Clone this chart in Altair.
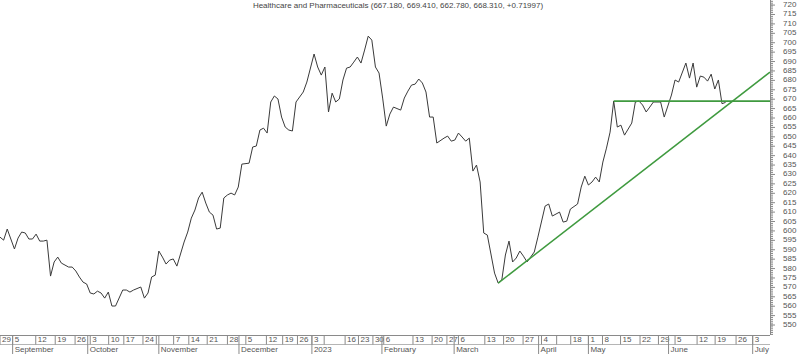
import altair as alt
import pandas as pd

# ---- data -------------------------------------------------------------------
# trading-session position (x) and closing value of the index
session = [0, 1, 2, 4, 5, 6, 7, 8, 9, 10, 11, 12, 13, 14, 15, 16, 17, 19, 20, 21,
           22, 23, 24, 25, 26, 27, 28, 29, 30, 31, 32, 34, 35, 36, 37, 39, 40, 41, 42, 43,
           44, 45, 46, 47, 48, 49, 51, 52, 53, 54, 55, 56, 57, 58, 59, 60, 61, 62, 63, 64,
           65, 66, 67, 69, 70, 71, 72, 73, 74, 75, 76, 77, 78, 79, 80, 81, 82, 84, 85, 87,
           88, 89, 90, 91, 92, 93, 94, 95, 96, 97, 98, 99, 100, 101, 102, 103, 104, 105, 106, 107,
           108, 109, 111, 112, 113, 114, 115, 116, 117, 118, 119, 120, 121, 123, 124, 125, 126, 127, 128, 129,
           130, 131, 132, 133, 134, 135, 137, 138, 139, 140, 141, 142, 143, 144, 145, 146, 148, 149, 151, 152,
           153, 155, 156, 157, 158, 160, 161, 162, 163, 164, 165, 166, 167, 168, 169, 170, 171, 172, 173, 175,
           176, 177, 178, 179, 180, 181, 183, 184, 186, 187, 188, 190, 191, 192, 193, 194, 195, 196, 197, 198,
           199, 200, 201]
close = [596.7, 595.1, 601.0, 590.4, 596.2, 599.4, 598.9, 595.7, 595.7, 598.3, 594.6, 594.6, 595.1, 576.0, 583.5, 586.1, 582.9, 580.8, 580.8, 578.7,
         575.5, 572.8, 571.8, 567.0, 566.5, 568.0, 567.0, 564.3, 567.5, 560.1, 560.1, 568.6, 568.6, 567.5, 568.6, 570.2, 564.3, 567.0, 575.5, 576.5,
         589.3, 586.1, 582.4, 584.5, 585.1, 581.3, 594.1, 599.4, 606.8, 611.1, 617.5, 620.6, 614.8, 610.0, 608.4, 601.0, 601.5, 617.5, 619.1, 620.1,
         619.1, 623.3, 635.5, 636.0, 644.6, 645.1, 653.6, 654.6, 652.0, 668.5, 671.7, 670.1, 660.5, 655.2, 653.6, 653.1, 668.5, 673.8, 679.1, 694.0,
         687.1, 682.8, 687.1, 663.2, 673.2, 668.5, 670.1, 680.2, 686.5, 687.1, 689.7, 692.4, 689.2, 696.1, 703.5, 701.4, 687.1, 683.9, 670.6, 655.7,
         662.1, 665.8, 664.2, 670.6, 674.3, 677.5, 678.0, 680.7, 678.6, 673.8, 660.5, 660.5, 646.7, 649.3, 650.4, 647.7, 648.3, 652.0, 649.9, 647.7,
         649.3, 631.8, 635.0, 626.0, 598.9, 597.8, 577.6, 572.3, 573.9, 587.2, 594.6, 583.5, 585.6, 589.3, 586.6, 583.5, 588.8, 596.7, 613.2, 614.3,
         607.9, 610.0, 604.7, 605.2, 611.6, 614.3, 623.3, 629.1, 624.4, 626.0, 628.6, 626.0, 636.6, 644.0, 652.5, 669.0, 655.2, 656.2, 650.9, 657.3,
         668.5, 669.0, 666.9, 663.2, 665.8, 668.5, 668.5, 660.5, 672.2, 680.2, 679.1, 689.2, 681.2, 689.2, 676.4, 682.3, 681.7, 679.6, 683.3, 675.4,
         680.2, 667.6, 668.3]

# trend lines (session, value)
support_s = [138, 213.3]
support_v = [572.3, 684.4]
resist_s = [170, 213.3]
resist_v = [669.0, 669.0]

# bottom calendar axis: week boxes and month boxes
week_pos = [0, 3.5, 9.9, 15.3, 20.8, 25, 30.1, 34.3, 39.6, 43.3, 48.1, 52.3, 57.4, 63, 68.1,
            73.8, 78.3, 82.4, 86.4, 89.8, 95.6, 99.3, 103.3, 106.3, 114.4, 119.7, 123.8, 127,
            134.3, 139.5, 144.9, 150, 154.2, 158.1, 163, 166.9, 171.9, 177.3, 182.4, 187,
            193.1, 198.1, 203.9, 208.5]
week_lbl = ["29", "5", "12", "19", "26", "3", "10", "17", "24", "", "7", "14", "21", "28", "5",
            "12", "19", "26", "3", "", "16", "23", "30", "6", "13", "20", "27", "6",
            "13", "20", "27", "4", "", "18", "1", "8", "15", "22", "29", "5",
            "12", "19", "26", "3"]
month_pos = [3.5, 24.3, 44, 66.2, 86.4, 105.8, 125.8, 149.2, 163, 185.2, 208.5]
month_lbl = ["September", "October", "November", "December", "2023", "February",
             "March", "April", "May", "June", "July"]

# right value axis: labelled ticks every 5, small ticks every 1
y_labels = list(range(550, 721, 5))
y_minor = list(range(545, 723))

title_text = "Healthcare and Pharmaceuticals (667.180, 669.410, 662.780, 668.310, +0.71997)"

# ---- chart -------------------------------------------------------------------
W, H = 770, 335
FONT = "Liberation Sans"
AX = "#8a8a8a"
TXT = "#555555"
xs = alt.Scale(domain=[0, 213.3], nice=False, zero=False)
ys = alt.Scale(domain=[544.7, 722.7], nice=False, zero=False)

df = pd.DataFrame({"session": session, "close": close})
sup = pd.DataFrame({"session": support_s, "close": support_v})
res = pd.DataFrame({"session": resist_s, "close": resist_v})
weeks = pd.DataFrame({"pos": week_pos, "lbl": week_lbl})
months = pd.DataFrame({"pos": month_pos, "lbl": month_lbl})
minor = pd.DataFrame({"v": y_minor})
major = pd.DataFrame({"v": y_labels, "lbl": [str(v) for v in y_labels]})

X = lambda f: alt.X(f, scale=xs, axis=None)
Y = lambda f: alt.Y(f, scale=ys, axis=None)

line = alt.Chart(df).mark_line(color="#3a3a3a", strokeWidth=1).encode(
    x=X("session:Q"), y=Y("close:Q"))

green = "#3f9a3f"
sup_line = alt.Chart(sup).mark_line(color=green, strokeWidth=1.5).encode(
    x=X("session:Q"), y=Y("close:Q"))
res_line = alt.Chart(res).mark_line(color=green, strokeWidth=1.8).encode(
    x=X("session:Q"), y=Y("close:Q"))

# right axis drawn from the value scale
y_domain_line = alt.Chart(df.head(1)).mark_rule(color=AX).encode(
    x=alt.value(W + 0.5), y=alt.value(0), y2=alt.value(H))
minor_ticks = alt.Chart(minor).mark_rule(color=AX, strokeWidth=1).encode(
    y=Y("v:Q"), x=alt.value(W), x2=alt.value(W + 3))
major_ticks = alt.Chart(major).mark_rule(color=AX, strokeWidth=1).encode(
    y=Y("v:Q"), x=alt.value(W), x2=alt.value(W + 5))
y_text = alt.Chart(major).mark_text(
    align="left", baseline="middle", font=FONT, fontSize=8, color=TXT).encode(
    y=Y("v:Q"), x=alt.value(W + 13), text="lbl:N")

# bottom calendar axis
axis_top = alt.Chart(df.head(1)).mark_rule(color=AX).encode(
    x=alt.value(0), x2=alt.value(W), y=alt.value(H + 0.5))
axis_mid = alt.Chart(df.head(1)).mark_rule(color="#b5b5b5").encode(
    x=alt.value(0), x2=alt.value(W), y=alt.value(H + 9.5))

week_rules = alt.Chart(weeks).mark_rule(color=AX).encode(
    x=X("pos:Q"), y=alt.value(H), y2=alt.value(H + 9.5))
week_text = alt.Chart(weeks).mark_text(
    align="left", baseline="middle", dx=2, font=FONT, fontSize=8, color=TXT).encode(
    x=X("pos:Q"), y=alt.value(H + 5), text="lbl:N")

month_rules = alt.Chart(months).mark_rule(color=AX).encode(
    x=X("pos:Q"), y=alt.value(H), y2=alt.value(H + 19))
month_text = alt.Chart(months).mark_text(
    align="left", baseline="middle", dx=2, font=FONT, fontSize=8, color=TXT).encode(
    x=X("pos:Q"), y=alt.value(H + 14.5), text="lbl:N")

title = alt.Chart(pd.DataFrame({"t": [title_text]})).mark_text(
    align="center", baseline="middle", font=FONT, fontSize=8, color="#444444").encode(
    x=alt.value(398), y=alt.value(6), text="t:N")

chart = alt.layer(
    line, sup_line, res_line, y_domain_line, minor_ticks, major_ticks, y_text,
    axis_top, axis_mid, week_rules, week_text, month_rules, month_text, title
).properties(
    width=W, height=H,
    autosize=alt.AutoSizeParams(type="none"),
    padding={"left": 0, "top": 0, "right": 30, "bottom": 19},
    background="white",
).configure_view(stroke=None)

chart.save("out.html", embed_options={"renderer": "svg", "actions": False})
